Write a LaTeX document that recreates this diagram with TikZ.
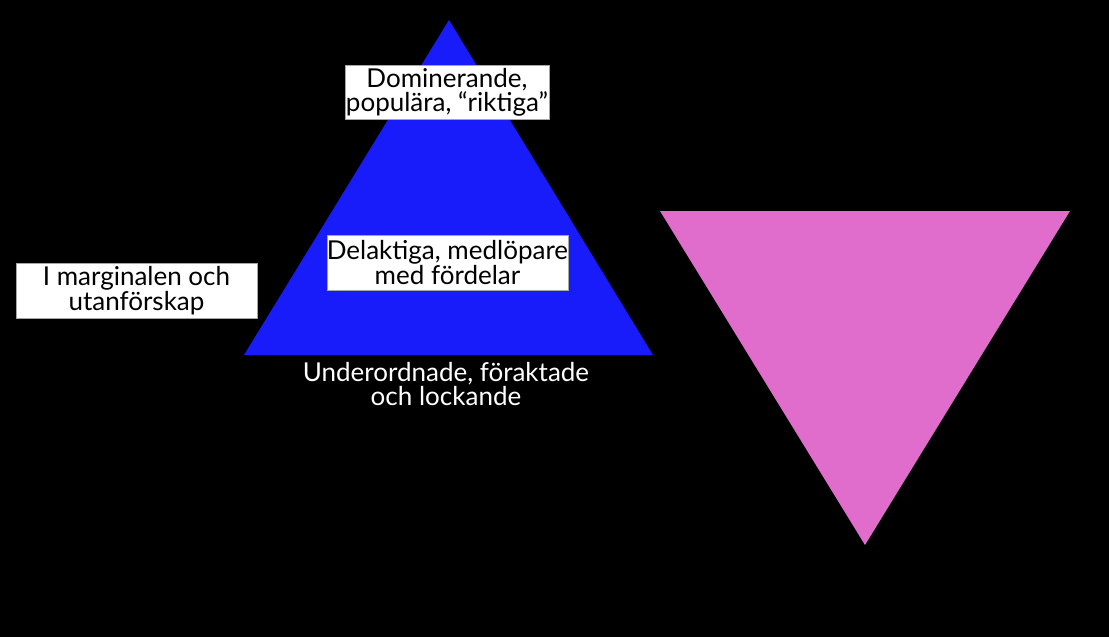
\documentclass[tikz,border=0pt]{standalone}
\usepackage{fontspec}
\setmainfont{Lato}
\definecolor{triblue}{RGB}{24,28,250}
\definecolor{tripink}{RGB}{224,108,203}
\tikzset{
  lbox/.style={fill=white, draw=gray!70, line width=0.6pt, inner sep=0pt, align=center,
    font=\fontsize{26}{20.5}\selectfont, text=black},
  wlabel/.style={inner sep=0pt, align=center, font=\fontsize{26}{20.5}\selectfont, text=white}
}
\begin{document}
\begin{tikzpicture}[x=1pt,y=-1pt]
\fill[black] (0,0) rectangle (1109,637);
\useasboundingbox (0,0) rectangle (1109,637);
\coordinate (bA) at (449,20);
\coordinate (bL) at (244,355);
\coordinate (bR) at (653,355);
\fill[triblue] (bA) -- (bR) -- (bL) -- cycle;
\coordinate (pL) at (660,211);
\coordinate (pR) at (1070,211);
\coordinate (pB) at (865,545);
\fill[tripink] (pL) -- (pR) -- (pB) -- cycle;
\node[lbox, minimum width=204pt, minimum height=54pt] (dom) at (447,92) {Dominerande,\\popul\"ara, ``riktiga''};
\node[lbox, minimum width=241pt, minimum height=55pt] (del) at (447.5,262.5) {Delaktiga, medl\"opare\\med f\"ordelar};
\node[lbox, minimum width=241pt, minimum height=55pt] (marg) at (136.5,290.5) {I marginalen och\\utanf\"orskap};
\node[wlabel] (und) at (446,384) {Underordnade, f\"oraktade\\och lockande};
\end{tikzpicture}
\end{document}
